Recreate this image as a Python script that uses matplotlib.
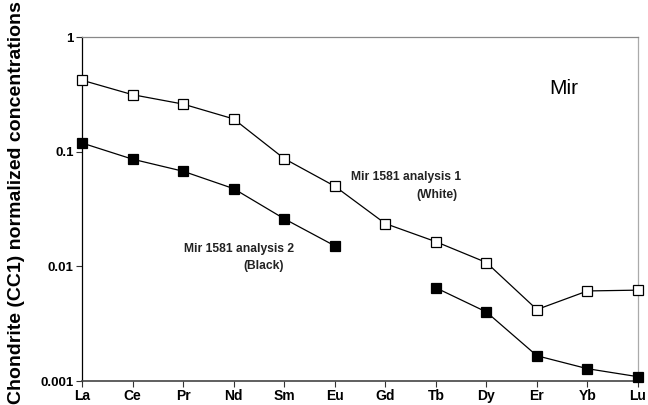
import numpy as np
import matplotlib
matplotlib.use("Agg")
import matplotlib.pyplot as plt

elements = ["La", "Ce", "Pr", "Nd", "Sm", "Eu", "Gd", "Tb", "Dy", "Er", "Yb", "Lu"]
analysis1_white = [0.42, 0.314, 0.26, 0.193, 0.087, 0.050, 0.0236, 0.0164, 0.0108, 0.0042, 0.0061, 0.0062]
analysis2_black = [0.119, 0.086, 0.0675, 0.0476, 0.026, 0.0151, np.nan, 0.0065, 0.0040, 0.00166, 0.00128, 0.00109]
ytick_vals = [0.001, 0.01, 0.1, 1]
ytick_labels = ["0.001", "0.01", "0.1", "1"]

plt.rcParams['font.family'] = ['Liberation Sans', 'DejaVu Sans']

fig = plt.figure(figsize=(6.48, 4.05), dpi=100)
ax = fig.add_axes([82/648, 24/405, 556/648, 344/405])

x = np.arange(len(elements))
ax.plot(x, analysis1_white, color='black', lw=0.9, marker='s', ms=6.6,
        mfc='white', mec='black', mew=0.9, clip_on=False, zorder=3)
ax.plot(x, analysis2_black, color='black', lw=0.9, marker='s', ms=6.6,
        mfc='black', mec='black', mew=0.9, clip_on=False, zorder=3)

ax.set_yscale('log')
ax.set_ylim(0.001, 1)
ax.set_xlim(0, len(elements) - 1)
ax.set_yticks(ytick_vals)
ax.set_yticklabels(ytick_labels, fontweight='bold', fontsize=9.5)
ax.yaxis.set_minor_locator(matplotlib.ticker.NullLocator())
ax.set_xticks(x)
ax.set_xticklabels(elements, fontweight='bold', fontsize=10)
ax.tick_params(axis='both', direction='out', length=4, width=0.8, color='#333333', pad=2)

ax.spines['left'].set_color('black')
ax.spines['bottom'].set_color('#444444')
ax.spines['bottom'].set_linewidth(1.2)
ax.spines['top'].set_color('#888888')
ax.spines['right'].set_color('#aaaaaa')
for s in ['top', 'right', 'left']:
    ax.spines[s].set_linewidth(0.9)

fig.text(17/648, 0.5, "Chondrite (CC1) normalized concentrations", rotation=90,
         ha='center', va='center', fontweight='bold', fontsize=14)

ax.text(9.535, 0.359, "Mir", fontsize=15, ha='center', va='center')
ax.text(6.41, 0.0601, "Mir 1581 analysis 1", fontsize=8.7, fontweight='bold',
        ha='center', va='center', color='#222222')
ax.text(7.42, 0.0419, "(White)", fontsize=8.7, fontweight='bold',
        ha='right', va='center', color='#222222')
ax.text(3.10, 0.01416, "Mir 1581 analysis 2", fontsize=8.7, fontweight='bold',
        ha='center', va='center', color='#222222')
ax.text(4.0, 0.01007, "(Black)", fontsize=8.7, fontweight='bold',
        ha='right', va='center', color='#222222')

fig.savefig("out.png", dpi=100)
